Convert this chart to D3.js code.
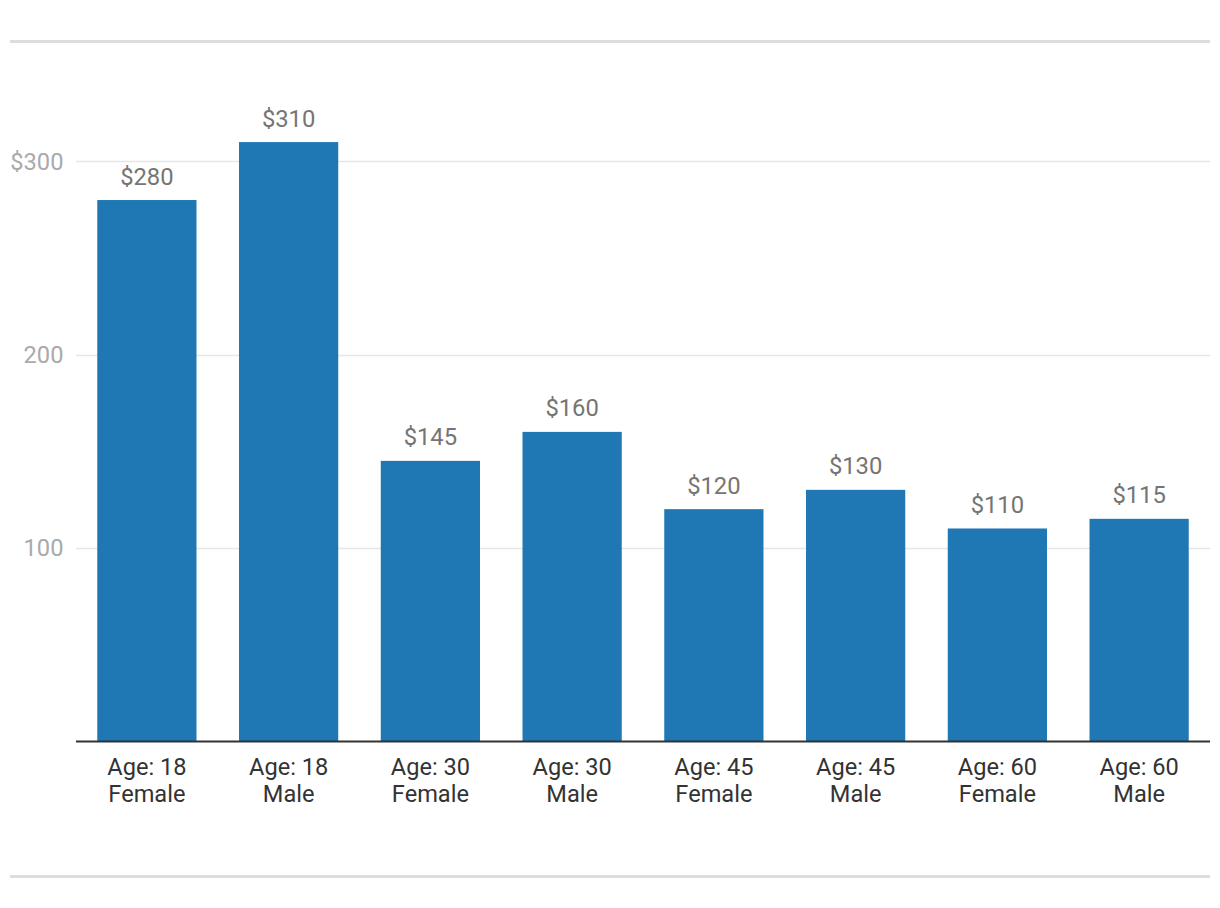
<!DOCTYPE html>
<html><head><meta charset="utf-8">
<script src="https://cdn.jsdelivr.net/npm/d3@7"></script>
<style>body{margin:0;background:#fff;font-family:Roboto,sans-serif;}</style>
</head><body><svg id="c" width="1220" height="908"></svg>
<script>
const categories = [["Age: 18","Female"],["Age: 18","Male"],["Age: 30","Female"],["Age: 30","Male"],["Age: 45","Female"],["Age: 45","Male"],["Age: 60","Female"],["Age: 60","Male"]];
const values = [280,310,145,160,120,130,110,115];
const yTicks = [100,200,300];
const yTickLabels = ["100","200","$300"];

const svg = d3.select("#c");
const plotLeft = 76, plotRight = 1210, plotBottom = 741;
const x = d3.scaleBand().domain(d3.range(categories.length)).range([plotLeft,plotRight]).paddingInner(0.3).paddingOuter(0.15);
const y = d3.scaleLinear().domain([0,100]).range([plotBottom, plotBottom-193.2]);

svg.append("line").attr("x1",10).attr("x2",1210).attr("y1",41.5).attr("y2",41.5).attr("stroke","#dddddd").attr("stroke-width",3);
svg.append("line").attr("x1",10).attr("x2",1210).attr("y1",876.5).attr("y2",876.5).attr("stroke","#dddddd").attr("stroke-width",3);

const g = svg.append("g");
g.selectAll(".grid").data(yTicks).join("line")
  .attr("x1",plotLeft).attr("x2",plotRight).attr("y1",d=>Math.round(y(d))+0.5).attr("y2",d=>Math.round(y(d))+0.5)
  .attr("stroke","#e6e6e6").attr("stroke-width",1.5);
g.selectAll(".yl").data(yTicks).join("text")
  .attr("x",63.5).attr("y",d=>y(d)).attr("dy","0.36em").attr("text-anchor","end")
  .attr("fill","#aaaaaa").attr("font-size",23.7).text((d,i)=>yTickLabels[i]);

g.selectAll(".bar").data(values).join("rect")
  .attr("x",(d,i)=>x(i)).attr("width",x.bandwidth())
  .attr("y",d=>y(d)).attr("height",d=>y(0)-y(d)).attr("fill","#1f77b4");

g.selectAll(".vl").data(values).join("text")
  .attr("x",(d,i)=>x(i)+x.bandwidth()/2).attr("y",d=>y(d)-15.5)
  .attr("text-anchor","middle").attr("fill","#757575").attr("font-size",23.8).text(d=>"$"+d);

svg.append("line").attr("x1",plotLeft).attr("x2",plotRight).attr("y1",plotBottom+0.5).attr("y2",plotBottom+0.5).attr("stroke","#333").attr("stroke-width",2);

const xl = g.selectAll(".xl").data(categories).join("text")
  .attr("x",(d,i)=>x(i)+x.bandwidth()/2).attr("y",774.5)
  .attr("text-anchor","middle").attr("fill","#333").attr("font-size",23.6);
xl.each(function(d){
  const t = d3.select(this);
  d.forEach((s,k)=>t.append("tspan").attr("x",t.attr("x")).attr("dy",k?27.5:0).text(s));
});
</script></body></html>
